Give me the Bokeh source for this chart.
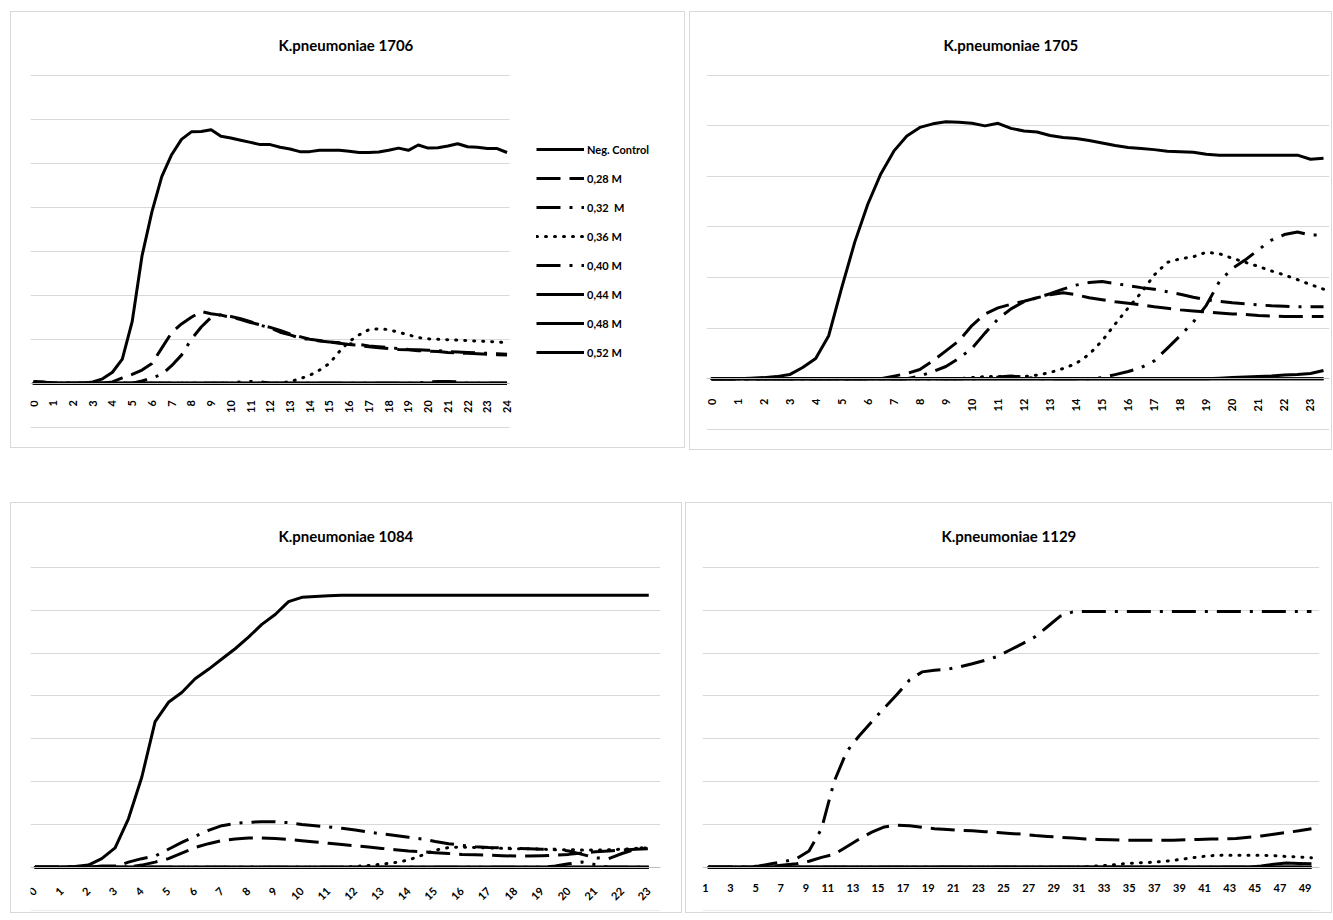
from math import pi
from bokeh.plotting import figure
from bokeh.models import FixedTicker, Legend, LegendItem, Range1d, Spacer
from bokeh.layouts import row, column
from bokeh.embed import file_html
from bokeh.resources import INLINE

FONT = "Lato"

series_names = ["Neg. Control", "0,28 M", "0,32  M", "0,36 M", "0,40 M", "0,44 M", "0,48 M", "0,52 M"]

# ---------------- K.pneumoniae 1706 (hours 0..24, half-hourly) ----------------
hours_1706 = [0, 0.5, 1, 1.5, 2, 2.5, 3, 3.5, 4, 4.5, 5, 5.5, 6, 6.5, 7, 7.5, 8, 8.5, 9, 9.5,
              10, 10.5, 11, 11.5, 12, 12.5, 13, 13.5, 14, 14.5, 15, 15.5, 16, 16.5, 17, 17.5,
              18, 18.5, 19, 19.5, 20, 20.5, 21, 21.5, 22, 22.5, 23, 23.5, 24]
ticks_1706 = [0, 1, 2, 3, 4, 5, 6, 7, 8, 9, 10, 11, 12, 13, 14, 15, 16, 17, 18, 19, 20, 21, 22, 23, 24]
neg_1706 = [0.03, 0.02, 0, 0, 0, 0, 0.03, 0.10, 0.25, 0.55, 1.40, 2.90, 3.90, 4.70, 5.20, 5.55, 5.72,
            5.73, 5.77, 5.62, 5.58, 5.53, 5.48, 5.43, 5.43, 5.37, 5.33, 5.27, 5.27, 5.30, 5.30, 5.30,
            5.28, 5.25, 5.25, 5.26, 5.30, 5.35, 5.30, 5.42, 5.35, 5.36, 5.40, 5.45, 5.38, 5.37, 5.34,
            5.34, 5.25]
m028_1706 = [0, 0, 0, 0, 0, 0, 0, 0, 0.03, 0.12, 0.20, 0.30, 0.45, 0.80, 1.15, 1.35, 1.50, 1.63,
             1.58, 1.55, 1.50, 1.45, 1.38, 1.33, 1.27, 1.20, 1.12, 1.06, 1.00, 0.97, 0.94, 0.91, 0.88,
             0.86, 0.83, 0.81, 0.79, 0.77, 0.76, 0.74, 0.73, 0.72, 0.70, 0.69, 0.68, 0.67, 0.66, 0.65,
             0.64]
m032_1706 = [0, 0, 0, 0, 0, 0, 0, 0, 0, 0, 0, 0.05, 0.12, 0.20, 0.40, 0.64, 1.00, 1.28, 1.50, 1.56,
             1.52, 1.47, 1.40, 1.32, 1.26, 1.16, 1.10, 1.03, 0.99, 0.96, 0.94, 0.92, 0.90, 0.88, 0.85,
             0.83, 0.81, 0.79, 0.77, 0.76, 0.75, 0.74, 0.72, 0.71, 0.70, 0.69, 0.68, 0.67, 0.66]
m036_1706 = [0, 0, 0, 0, 0, 0, 0, 0, 0, 0, 0, 0, 0, 0, 0, 0, 0, 0, 0, 0, 0, 0, 0, 0, 0, 0,
             0.04, 0.10, 0.18, 0.30, 0.45, 0.72, 0.95, 1.10, 1.22, 1.24, 1.22, 1.16, 1.10, 1.04, 1.01,
             1.00, 0.99, 0.98, 0.97, 0.96, 0.95, 0.94, 0.92]
m040_1706 = [0, 0, 0, 0, 0, 0, 0, 0, 0, 0, 0, 0, 0, 0, 0, 0, 0, 0, 0, 0, 0, 0.03, 0.04, 0.03,
             0, 0, 0, 0, 0, 0, 0, 0, 0, 0, 0, 0, 0, 0, 0, 0, 0.03, 0.04, 0.04, 0.03, 0, 0, 0, 0, 0]
m044_1706 = [0.04, 0.03, 0, 0, 0, 0, 0, 0, 0, 0, 0, 0, 0, 0, 0, 0, 0, 0, 0, 0, 0, 0, 0, 0, 0,
             0, 0, 0, 0, 0, 0, 0, 0, 0, 0, 0, 0, 0, 0, 0, 0, 0, 0, 0, 0, 0, 0, 0, 0]
m048_1706 = [0, 0, 0, 0, 0, 0, 0, 0, 0, 0, 0, 0, 0, 0, 0, 0, 0, 0, 0, 0, 0, 0, 0, 0, 0,
             0, 0, 0, 0, 0, 0, 0, 0, 0, 0, 0, 0, 0, 0, 0, 0, 0, 0, 0, 0, 0, 0, 0, 0]
m052_1706 = [0, 0, 0, 0, 0, 0, 0, 0, 0, 0, 0, 0, 0, 0, 0, 0, 0, 0, 0, 0, 0, 0, 0, 0, 0,
             0, 0, 0, 0, 0, 0, 0, 0, 0, 0, 0, 0, 0, 0, 0, 0, 0, 0, 0, 0, 0, 0, 0, 0]

# ---------------- K.pneumoniae 1705 (hours 0..23.5) ----------------
hours_1705 = [0, 0.5, 1, 1.5, 2, 2.5, 3, 3.5, 4, 4.5, 5, 5.5, 6, 6.5, 7, 7.5, 8, 8.5, 9, 9.5,
              10, 10.5, 11, 11.5, 12, 12.5, 13, 13.5, 14, 14.5, 15, 15.5, 16, 16.5, 17, 17.5,
              18, 18.5, 19, 19.5, 20, 20.5, 21, 21.5, 22, 22.5, 23, 23.5]
ticks_1705 = [0, 1, 2, 3, 4, 5, 6, 7, 8, 9, 10, 11, 12, 13, 14, 15, 16, 17, 18, 19, 20, 21, 22, 23]
neg_1705 = [0, 0, 0, 0.01, 0.02, 0.04, 0.08, 0.22, 0.40, 0.85, 1.80, 2.70, 3.45, 4.05, 4.50, 4.80,
            4.97, 5.04, 5.08, 5.07, 5.05, 5.00, 5.05, 4.95, 4.90, 4.88, 4.81, 4.77, 4.75, 4.71, 4.66,
            4.61, 4.57, 4.55, 4.53, 4.50, 4.49, 4.48, 4.44, 4.42, 4.42, 4.42, 4.42, 4.42, 4.42, 4.42,
            4.34, 4.36]
m028_1705 = [0, 0, 0, 0, 0, 0, 0, 0, 0, 0, 0, 0, 0, 0, 0.05, 0.10, 0.18, 0.35, 0.55, 0.75, 1.05,
             1.28, 1.40, 1.47, 1.53, 1.60, 1.66, 1.70, 1.66, 1.60, 1.56, 1.52, 1.49, 1.46, 1.42, 1.39,
             1.36, 1.34, 1.32, 1.30, 1.28, 1.27, 1.25, 1.24, 1.23, 1.23, 1.23, 1.23]
m032_1705 = [0, 0, 0, 0, 0, 0, 0, 0, 0, 0, 0, 0, 0, 0, 0, 0, 0.05, 0.14, 0.24, 0.40, 0.60, 0.90,
             1.18, 1.38, 1.52, 1.60, 1.68, 1.77, 1.85, 1.90, 1.92, 1.88, 1.84, 1.80, 1.77, 1.72, 1.67,
             1.61, 1.56, 1.53, 1.50, 1.48, 1.46, 1.44, 1.43, 1.42, 1.42, 1.42]
m036_1705 = [0, 0, 0, 0, 0, 0, 0, 0, 0, 0, 0, 0, 0, 0, 0, 0, 0, 0, 0, 0, 0.02, 0.04, 0.04, 0.04,
             0.04, 0.07, 0.12, 0.20, 0.30, 0.48, 0.75, 1.08, 1.40, 1.70, 2.05, 2.30, 2.37, 2.41, 2.50,
             2.47, 2.38, 2.30, 2.22, 2.13, 2.05, 1.96, 1.86, 1.77]
m040_1705 = [0, 0, 0, 0, 0, 0, 0, 0, 0, 0, 0, 0, 0, 0, 0, 0, 0, 0, 0, 0, 0, 0, 0.03, 0.05, 0.03,
             0, 0, 0, 0, 0, 0.02, 0.08, 0.14, 0.22, 0.35, 0.60, 0.85, 1.12, 1.45, 1.92, 2.18, 2.35,
             2.55, 2.74, 2.85, 2.90, 2.84, 2.84]
m044_1705 = [0, 0, 0, 0, 0, 0, 0, 0, 0, 0, 0, 0, 0, 0, 0, 0, 0, 0, 0, 0, 0, 0, 0, 0, 0, 0, 0, 0,
             0, 0, 0, 0, 0, 0, 0, 0, 0, 0, 0, 0.01, 0.02, 0.03, 0.04, 0.05, 0.07, 0.08, 0.10, 0.16]
m048_1705 = [0, 0, 0, 0, 0, 0, 0, 0, 0, 0, 0, 0, 0, 0, 0, 0, 0, 0, 0, 0, 0, 0, 0, 0,
             0, 0, 0, 0, 0, 0, 0, 0, 0, 0, 0, 0, 0, 0, 0, 0, 0, 0, 0, 0, 0, 0, 0, 0]
m052_1705 = [0, 0, 0, 0, 0, 0, 0, 0, 0, 0, 0, 0, 0, 0, 0, 0, 0, 0, 0, 0, 0, 0, 0, 0,
             0, 0, 0, 0, 0, 0, 0, 0, 0, 0, 0, 0, 0, 0, 0, 0, 0, 0, 0, 0, 0, 0, 0, 0]

# ---------------- K.pneumoniae 1084 (hours 0..23) ----------------
hours_1084 = [0, 0.5, 1, 1.5, 2, 2.5, 3, 3.5, 4, 4.5, 5, 5.5, 6, 6.5, 7, 7.5, 8, 8.5, 9, 9.5,
              10, 10.5, 11, 11.5, 12, 12.5, 13, 13.5, 14, 14.5, 15, 15.5, 16, 16.5, 17, 17.5,
              18, 18.5, 19, 19.5, 20, 20.5, 21, 21.5, 22, 22.5, 23]
ticks_1084 = [0, 1, 2, 3, 4, 5, 6, 7, 8, 9, 10, 11, 12, 13, 14, 15, 16, 17, 18, 19, 20, 21, 22, 23]
neg_1084 = [0, 0, 0, 0.02, 0.05, 0.20, 0.45, 1.13, 2.10, 3.40, 3.85, 4.08, 4.40, 4.62, 4.86, 5.10,
            5.37, 5.67, 5.90, 6.20, 6.30, 6.32, 6.34, 6.35, 6.35, 6.35, 6.35, 6.35, 6.35, 6.35, 6.35,
            6.35, 6.35, 6.35, 6.35, 6.35, 6.35, 6.35, 6.35, 6.35, 6.35, 6.35, 6.35, 6.35, 6.35, 6.35,
            6.35]
m028_1084 = [0, 0, 0, 0, 0, 0, 0, 0, 0.05, 0.12, 0.20, 0.33, 0.46, 0.55, 0.62, 0.66, 0.68, 0.68,
             0.67, 0.65, 0.62, 0.59, 0.56, 0.53, 0.50, 0.47, 0.44, 0.41, 0.38, 0.36, 0.34, 0.32, 0.30,
             0.29, 0.28, 0.27, 0.26, 0.26, 0.27, 0.28, 0.30, 0.33, 0.36, 0.38, 0.40, 0.42, 0.43]
m032_1084 = [0, 0, 0, 0, 0, 0, 0, 0.12, 0.20, 0.26, 0.42, 0.58, 0.72, 0.86, 0.97, 1.02, 1.05, 1.06,
             1.06, 1.04, 1.00, 0.97, 0.94, 0.91, 0.87, 0.82, 0.78, 0.74, 0.70, 0.66, 0.60, 0.55, 0.51,
             0.48, 0.46, 0.45, 0.44, 0.43, 0.42, 0.42, 0.38, 0.30, 0.22, 0.20, 0.32, 0.42, 0.48]
m036_1084 = [0, 0, 0, 0, 0, 0, 0, 0, 0, 0, 0, 0, 0, 0, 0, 0, 0, 0, 0, 0, 0, 0, 0, 0, 0.02, 0.04,
             0.07, 0.11, 0.17, 0.28, 0.40, 0.46, 0.47, 0.46, 0.45, 0.44, 0.43, 0.43, 0.42, 0.41, 0.41,
             0.40, 0.40, 0.41, 0.42, 0.44, 0.45]
m040_1084 = [0, 0, 0, 0, 0, 0.03, 0.03, 0, 0, 0, 0, 0, 0, 0, 0, 0, 0, 0, 0, 0, 0, 0, 0, 0, 0, 0,
             0, 0, 0, 0, 0, 0, 0, 0, 0, 0, 0, 0, 0, 0.03, 0.08, 0.12, 0.06, 0, 0, 0, 0]
m044_1084 = [0, 0, 0, 0, 0, 0, 0, 0, 0, 0, 0, 0, 0, 0, 0, 0, 0, 0, 0, 0, 0, 0, 0, 0,
             0, 0, 0, 0, 0, 0, 0, 0, 0, 0, 0, 0, 0, 0, 0, 0, 0, 0, 0, 0, 0, 0, 0]
m048_1084 = [0, 0, 0, 0, 0, 0, 0, 0, 0, 0, 0, 0, 0, 0, 0, 0, 0, 0, 0, 0, 0, 0, 0, 0,
             0, 0, 0, 0, 0, 0, 0, 0, 0, 0, 0, 0, 0, 0, 0, 0, 0, 0, 0, 0, 0, 0, 0]
m052_1084 = [0, 0, 0, 0, 0, 0, 0, 0, 0, 0, 0, 0, 0, 0, 0, 0, 0, 0, 0, 0, 0, 0, 0, 0,
             0, 0, 0, 0, 0, 0, 0, 0, 0, 0, 0, 0, 0, 0, 0, 0, 0, 0, 0, 0, 0, 0, 0]

# ---------------- K.pneumoniae 1129 (readings 1..49) ----------------
reads_1129 = [1, 2, 3, 4, 5, 6, 7, 8, 9, 10, 11, 12, 13, 14, 15, 16, 17, 18, 19, 20, 21, 22, 23, 24,
              25, 26, 27, 28, 29, 30, 31, 32, 33, 34, 35, 36, 37, 38, 39, 40, 41, 42, 43, 44, 45,
              46, 47, 48, 49]
ticks_1129 = [1, 3, 5, 7, 9, 11, 13, 15, 17, 19, 21, 23, 25, 27, 29, 31, 33, 35, 37, 39, 41, 43,
              45, 47, 49]
neg_1129 = [0, 0, 0, 0, 0, 0, 0, 0, 0, 0, 0, 0, 0, 0, 0, 0, 0, 0, 0, 0, 0, 0, 0, 0, 0,
            0, 0, 0, 0, 0, 0, 0, 0, 0, 0, 0, 0, 0, 0, 0, 0, 0, 0, 0, 0, 0, 0, 0, 0]
m028_1129 = [0, 0, 0, 0, 0, 0.02, 0.05, 0.08, 0.14, 0.23, 0.30, 0.48, 0.66, 0.82, 0.94, 0.98, 0.97,
             0.93, 0.90, 0.88, 0.86, 0.85, 0.83, 0.81, 0.79, 0.77, 0.74, 0.72, 0.70, 0.68, 0.66, 0.65,
             0.64, 0.63, 0.63, 0.63, 0.63, 0.63, 0.64, 0.65, 0.66, 0.66, 0.67, 0.70, 0.73, 0.77, 0.81,
             0.85, 0.90]
m032_1129 = [0, 0, 0, 0, 0.03, 0.08, 0.13, 0.20, 0.38, 0.90, 2.00, 2.70, 3.07, 3.40, 3.72, 4.03,
             4.37, 4.56, 4.60, 4.62, 4.68, 4.75, 4.83, 4.92, 5.07, 5.22, 5.38, 5.62, 5.86, 5.96, 5.97,
             5.97, 5.97, 5.97, 5.97, 5.97, 5.97, 5.97, 5.97, 5.97, 5.97, 5.97, 5.97, 5.97, 5.97, 5.97,
             5.97, 5.97, 5.97]
m036_1129 = [0, 0, 0, 0, 0, 0, 0, 0, 0, 0, 0, 0, 0, 0, 0, 0, 0, 0, 0, 0, 0, 0, 0, 0, 0, 0, 0, 0,
             0, 0, 0.01, 0.03, 0.05, 0.08, 0.10, 0.11, 0.13, 0.16, 0.20, 0.24, 0.27, 0.28, 0.28, 0.28,
             0.28, 0.27, 0.25, 0.24, 0.22]
m040_1129 = [0, 0, 0, 0, 0, 0, 0, 0, 0, 0, 0, 0, 0, 0, 0, 0, 0, 0, 0, 0, 0, 0, 0, 0, 0,
             0, 0, 0, 0, 0, 0, 0, 0, 0, 0, 0, 0, 0, 0, 0, 0, 0, 0, 0, 0, 0, 0, 0, 0]
m044_1129 = [0, 0, 0, 0, 0, 0, 0, 0, 0, 0, 0, 0, 0, 0, 0, 0, 0, 0, 0, 0, 0, 0, 0, 0, 0, 0, 0, 0,
             0, 0, 0, 0, 0, 0, 0, 0, 0, 0, 0, 0, 0, 0, 0, 0, 0.03, 0.07, 0.10, 0.09, 0.08]
m048_1129 = [0, 0, 0, 0, 0, 0, 0, 0, 0, 0, 0, 0, 0, 0, 0, 0, 0, 0, 0, 0, 0, 0, 0, 0, 0,
             0, 0, 0, 0, 0, 0, 0, 0, 0, 0, 0, 0, 0, 0, 0, 0, 0, 0, 0, 0, 0, 0, 0, 0]
m052_1129 = [0, 0, 0, 0, 0, 0, 0, 0, 0, 0, 0, 0, 0, 0, 0, 0, 0, 0, 0, 0, 0, 0, 0, 0, 0,
             0, 0, 0, 0, 0, 0, 0, 0, 0, 0, 0, 0, 0, 0, 0, 0, 0, 0, 0, 0, 0, 0, 0, 0]

# line styles per series (dash, cap)
STYLES = [("solid", "butt"), ("24 9", "butt"), ("24 9 3 9", "butt"), ("1 8", "round"),
          ("24 9 3 9 3 9", "butt"), ("solid", "butt"), ("solid", "butt"), ("solid", "butt")]

GRID = "#d9d9d9"


def panel(title, xs, ys_list, ticks, orient, w, h, ml, mr, mt, mb, xr, yr, grid_ticks,
          title_left, title_standoff, label_standoff, plot_span=None, legend_loc=None):
    p = figure(width=w, height=h, output_backend="svg", toolbar_location=None,
               x_range=Range1d(*xr), y_range=Range1d(*yr),
               min_border_left=ml, min_border_right=mr, min_border_top=mt, min_border_bottom=mb,
               background_fill_color="white", border_fill_color="white",
               outline_line_color=None)
    p.styles = {"border": "1px solid #d9d9d9", "box-sizing": "content-box"}
    p.title.text = title
    p.title.text_font = FONT
    p.title.text_font_size = "15px"
    p.title.text_font_style = "bold"
    p.title.text_color = "black"
    p.title.align = "left"
    p.title.offset = title_left
    p.title.standoff = title_standoff

    p.yaxis.visible = False
    p.xgrid.visible = False
    g = p.ygrid[0]
    g.ticker = FixedTicker(ticks=grid_ticks)
    g.grid_line_color = GRID
    g.grid_line_width = 1
    if plot_span is not None:
        g.cross_bounds = plot_span

    ax = p.xaxis[0]
    ax.fixed_location = 0
    ax.ticker = FixedTicker(ticks=ticks)
    ax.major_label_orientation = orient
    ax.major_label_text_font = FONT
    ax.major_label_text_font_size = "11px"
    ax.major_label_text_font_style = "bold"
    ax.major_label_text_color = "black"
    ax.major_label_standoff = label_standoff
    ax.axis_line_color = "#bfbfbf"
    ax.major_tick_line_color = None
    ax.minor_tick_line_color = None
    if plot_span is not None:
        ax.bounds = plot_span

    rends = []
    for ys, (dash, cap) in zip(ys_list, STYLES):
        r = p.line(xs, ys, line_color="black", line_width=3, line_dash=dash,
                   line_cap=cap, line_join="round")
        rends.append(r)

    if legend_loc is not None:
        items = [LegendItem(label=n, renderers=[r]) for n, r in zip(series_names, rends)]
        lg = Legend(items=items, location=legend_loc, orientation="vertical",
                    glyph_width=48, glyph_height=20, label_height=20, spacing=9,
                    label_standoff=3, padding=9, margin=0,
                    border_line_color=None, background_fill_alpha=0,
                    label_text_font=FONT, label_text_font_size="11px",
                    label_text_font_style="bold", label_text_color="black")
        p.add_layout(lg, "center")
    return p


pA = panel("K.pneumoniae 1706", hours_1706,
           [neg_1706, m028_1706, m032_1706, m036_1706, m040_1706, m044_1706, m048_1706, m052_1706],
           ticks_1706, pi / 2, 673, 435, 19, 9, 62, 21, (-0.153, 32.64), (-1.03, 7.025),
           [-1, 0, 1, 2, 3, 4, 5, 6, 7], 248, 42, 11,
           plot_span=(-0.153, 24.15), legend_loc=(506, 66))
pB = panel("K.pneumoniae 1705", hours_1705,
           [neg_1705, m028_1705, m032_1705, m036_1705, m040_1705, m044_1705, m048_1705, m052_1705],
           ticks_1705, pi / 2, 641, 437, 16, 4, 62, 18, (-0.193, 23.73), (-1.026, 6.016),
           [-1, 0, 1, 2, 3, 4, 5, 6], 237, 42, 14)
pC = panel("K.pneumoniae 1084", hours_1084,
           [neg_1084, m028_1084, m032_1084, m036_1084, m040_1084, m044_1084, m048_1084, m052_1084],
           ticks_1084, pi / 4, 670, 409, 19, 23, 63, 4, (-0.17, 23.44), (-1.01, 7.02),
           [-1, 0, 1, 2, 3, 4, 5, 6, 7], 248, 43, 16)
pD = panel("K.pneumoniae 1129", reads_1129,
           [neg_1129, m028_1129, m032_1129, m036_1129, m040_1129, m044_1129, m048_1129, m052_1129],
           ticks_1129, 0, 645, 409, 16, 14, 63, 4, (0.52, 49.64), (-1.01, 7.02),
           [-1, 0, 1, 2, 3, 4, 5, 6, 7], 239, 43, 15)

layout = column(Spacer(height=11),
                row(Spacer(width=10), pA, Spacer(width=4), pB),
                Spacer(height=52),
                row(Spacer(width=10), pC, Spacer(width=3), pD))

open("out.html", "w").write(file_html(layout, INLINE, title="K.pneumoniae growth curves"))
